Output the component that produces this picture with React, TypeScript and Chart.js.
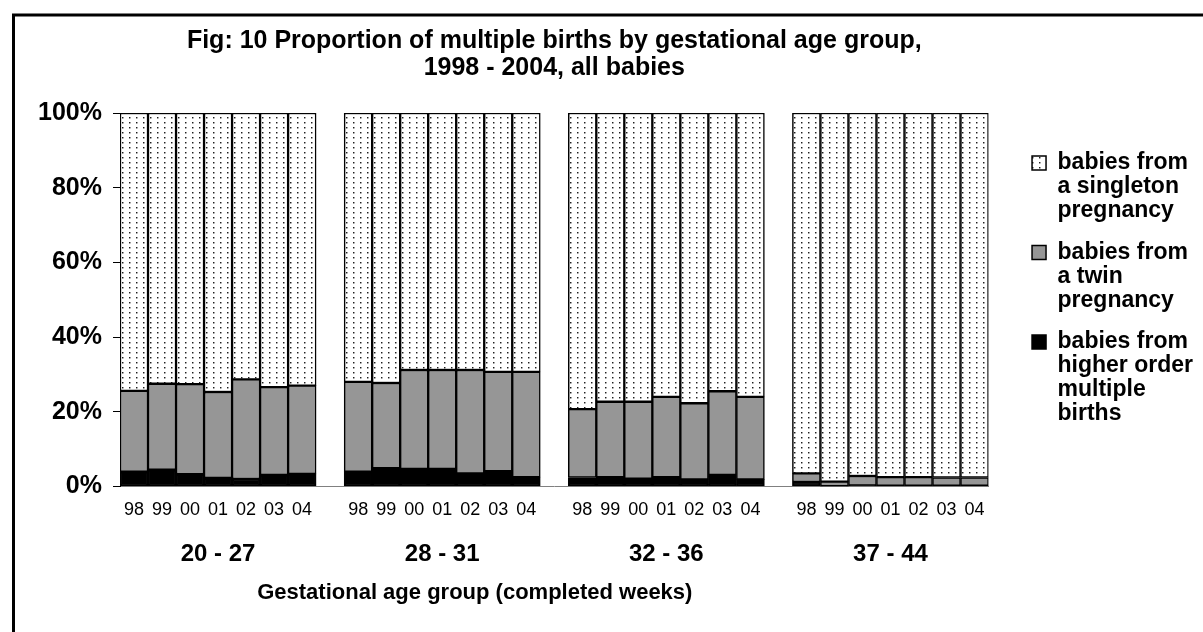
import React, { useEffect, useRef } from 'react';
import { Chart, registerables } from 'chart.js';

Chart.register(...registerables);

const FONT = "'Liberation Sans', Arial, Helvetica, sans-serif";

const chartTitle = ['Fig: 10 Proportion of multiple births by gestational age group,', '1998 - 2004, all babies'];
const axisTitle = 'Gestational age group (completed weeks)';
const groups = ['20 - 27', '28 - 31', '32 - 36', '37 - 44'];
const years = ['98', '99', '00', '01', '02', '03', '04'];

// percent of babies, 7 years per gestational age group (20-27, 28-31, 32-36, 37-44)
const higherOrder = [
  4.0, 4.5, 3.3, 2.3, 2.0, 3.1, 3.4,
  4.0, 4.9, 4.7, 4.7, 3.5, 4.1, 2.5,
  2.4, 2.5, 2.1, 2.5, 1.9, 3.1, 1.9,
  1.2, 0.1, 0.3, 0.2, 0.2, 0.2, 0.2,
];
const twin = [
  21.6, 23.0, 24.1, 23.0, 26.7, 23.5, 23.6,
  24.0, 22.8, 26.5, 26.5, 27.7, 26.6, 28.2,
  18.3, 20.2, 20.6, 21.5, 20.4, 22.4, 22.1,
  2.3, 1.2, 2.5, 2.3, 2.3, 2.2, 2.2,
];
const singleton = [
  74.4, 72.5, 72.6, 74.7, 71.3, 73.4, 73.0,
  72.0, 72.3, 68.8, 68.8, 68.8, 69.3, 69.3,
  79.3, 77.3, 77.3, 76.0, 77.7, 74.5, 76.0,
  96.5, 98.7, 97.2, 97.5, 97.5, 97.6, 97.6,
];

const seriesNames = [
  'babies from higher order multiple births',
  'babies from a twin pregnancy',
  'babies from a singleton pregnancy',
];
const legendLines = [
  ['babies from', 'higher order', 'multiple', 'births'],
  ['babies from', 'a twin', 'pregnancy'],
  ['babies from', 'a singleton', 'pregnancy'],
];
const yTicks = [0, 20, 40, 60, 80, 100];

// build the category layout: 7 bars per group, one empty slot between groups
const yearLabels: string[] = [];
const groupLabels: string[] = [];
const slotIndex: number[] = [];
groups.forEach((g, gi) => {
  if (gi > 0) {
    yearLabels.push('');
    groupLabels.push('');
  }
  years.forEach((y, yi) => {
    slotIndex.push(yearLabels.length);
    yearLabels.push(y);
    groupLabels.push(yi === 3 ? g : '');
  });
});
const spread = (vals: number[]) => {
  const out: (number | null)[] = yearLabels.map(() => null);
  vals.forEach((v, i) => {
    out[slotIndex[i]] = v;
  });
  return out;
};

export default function App() {
  const ref = useRef<HTMLCanvasElement>(null);

  useEffect(() => {
    const canvas = ref.current!;
    const tile = document.createElement('canvas');
    tile.width = 7;
    tile.height = 5;
    const t = tile.getContext('2d')!;
    t.fillStyle = '#ffffff';
    t.fillRect(0, 0, 7, 5);
    t.fillStyle = '#9a9a9a';
    t.fillRect(4, 2, 1, 1);
    t.fillRect(3, 3, 1, 1);
    t.fillStyle = '#d0d0d0';
    t.fillRect(4, 3, 1, 1);
    t.fillStyle = '#1e1e1e';
    t.fillRect(3, 2, 1, 1);
    const dots = canvas.getContext('2d')!.createPattern(tile, 'repeat')!;

    const framePlugin = {
      id: 'frame',
      beforeDraw(c: any) {
        const ctx = c.ctx;
        ctx.save();
        ctx.fillStyle = '#ffffff';
        ctx.fillRect(0, 0, c.width, c.height);
        ctx.strokeStyle = '#000000';
        ctx.lineWidth = 3;
        ctx.beginPath();
        ctx.moveTo(13.5, c.height + 5);
        ctx.lineTo(13.5, 15);
        ctx.lineTo(c.width + 5, 15);
        ctx.stroke();
        ctx.restore();
      },
    };

    const fills = ['#000000', '#969696', dots];
    const values = [higherOrder, twin, singleton];

    const chart = new Chart(canvas, {
      type: 'bar',
      data: {
        labels: yearLabels,
        datasets: values.map((v, i) => ({
          label: seriesNames[i],
          data: spread(v),
          backgroundColor: fills[i] as any,
          borderColor: '#000000',
          borderWidth: 1.5,
          borderSkipped: false,
          barPercentage: 1,
          categoryPercentage: 1,
        })),
      },
      options: {
        responsive: false,
        animation: false,
        devicePixelRatio: 1,
        layout: { padding: { left: 35, top: 0, right: 0, bottom: 0 } },
        scales: {
          x: {
            stacked: true,
            offset: true,
            weight: 0,
            grid: { display: false, drawTicks: false },
            border: { display: true, color: '#808080', width: 1 },
            ticks: {
              autoSkip: false,
              maxRotation: 0,
              minRotation: 0,
              padding: 13,
              color: '#000000',
              font: { family: FONT, size: 18 },
            },
            afterFit: (s: any) => {
              s.height = 34;
            },
          },
          x2: {
            type: 'category',
            position: 'bottom',
            labels: groupLabels,
            offset: true,
            weight: 1,
            grid: { display: false, drawTicks: false },
            border: { display: false },
            ticks: {
              autoSkip: false,
              maxRotation: 0,
              minRotation: 0,
              padding: 19,
              color: '#000000',
              font: { family: FONT, size: 24, weight: 'bold' },
            },
            title: {
              display: true,
              text: axisTitle + ' '.repeat(26),
              color: '#000000',
              font: { family: FONT, size: 22, weight: 'bold' },
              padding: { top: 15, bottom: 26 },
            },
            afterFit: (s: any) => {
              s.height = 111.5;
            },
          },
          y: {
            stacked: true,
            min: 0,
            max: 100,
            afterBuildTicks: (s: any) => {
              s.ticks = yTicks.map((v) => ({ value: v }));
            },
            grid: { drawOnChartArea: false, drawTicks: true, tickLength: 7, color: '#000000' },
            border: { display: true, color: '#000000' },
            ticks: {
              padding: 11,
              color: '#000000',
              font: { family: FONT, size: 25, weight: 'bold' },
              callback: (v: any) => v + '%',
            },
            afterFit: (s: any) => {
              s.width = 85;
            },
          },
          yR: {
            type: 'linear',
            position: 'right',
            display: true,
            grid: { display: false, drawTicks: false },
            border: { display: false },
            ticks: { display: false },
            afterFit: (s: any) => {
              s.width = 26;
            },
          },
        },
        plugins: {
          title: {
            display: true,
            text: chartTitle,
            fullSize: false,
            color: '#000000',
            font: { family: FONT, size: 25, weight: 'bold', lineHeight: '27px' },
            padding: { top: 28, bottom: 31 },
          },
          legend: {
            position: 'right',
            align: 'start',
            fullSize: false,
            reverse: true,
            title: { display: true, text: '', padding: 0, font: { size: 21, lineHeight: 1 } },
            labels: {
              boxWidth: 14,
              boxHeight: 14,
              padding: 17.5,
              color: '#000000',
              font: { family: FONT, size: 23, weight: 'bold', lineHeight: '24px' },
              generateLabels: (c: any) => {
                const items = (Chart.defaults.plugins.legend.labels as any).generateLabels(c);
                items.forEach((it: any) => {
                  it.text = legendLines[it.datasetIndex];
                });
                return items;
              },
            },
          },
          tooltip: { enabled: false },
        },
      },
      plugins: [framePlugin],
    } as any);

    return () => chart.destroy();
  }, []);

  return (
    <div style={{ position: 'absolute', left: 0, top: 0, width: 1203, height: 632, background: '#ffffff', overflow: 'hidden' }}>
      <canvas ref={ref} width={1203} height={632} style={{ display: 'block' }} />
    </div>
  );
}
